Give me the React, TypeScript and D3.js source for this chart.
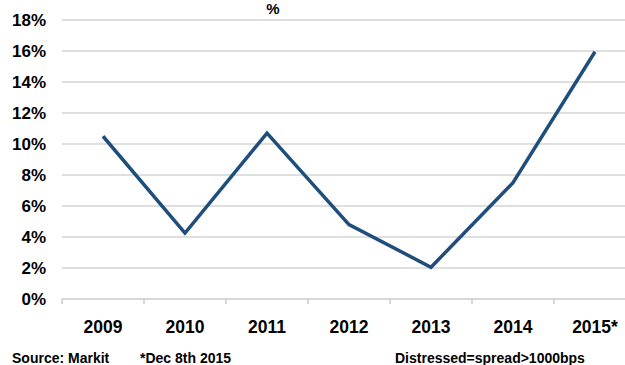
import { useEffect, useRef } from 'react';
import * as d3 from 'd3';

// data
const years = ['2009', '2010', '2011', '2012', '2013', '2014', '2015*'];
const distressedPct = [10.5, 4.25, 10.7, 4.8, 2.05, 7.5, 15.95];
const yTicks = [0, 2, 4, 6, 8, 10, 12, 14, 16, 18];

function App() {
  const gx = useRef<SVGGElement>(null);

  const width = 625;
  const height = 365;

  const plotLeft = 62;
  const plotRight = 636; // the plot runs past the right edge of the picture
  const plotTop = 20;
  const plotBottom = 299;

  const font = '"Liberation Sans", Arial, sans-serif';

  const xScale = d3.scaleBand<string>()
    .domain(years)
    .range([plotLeft, plotRight]);

  const yScale = d3.scaleLinear()
    .domain([0, 18])
    .range([plotBottom, plotTop]);

  const line = d3.line<number>()
    .x((_, i) => (xScale(years[i]) ?? 0) + xScale.bandwidth() / 2)
    .y(d => yScale(d));

  useEffect(() => {
    const g = d3.select(gx.current);
    g.selectAll('*').remove();
    const bw = xScale.bandwidth();
    // category boundary ticks
    const bounds = years.map(y => xScale(y) ?? 0).concat([plotRight]);
    g.append('line')
      .attr('x1', plotLeft).attr('x2', plotRight)
      .attr('y1', plotBottom).attr('y2', plotBottom)
      .attr('stroke', '#c8cccc').attr('stroke-width', 1.5);
    g.selectAll('line.tick')
      .data(bounds)
      .join('line')
      .attr('class', 'tick')
      .attr('x1', d => d).attr('x2', d => d)
      .attr('y1', plotBottom).attr('y2', plotBottom + 5)
      .attr('stroke', '#c8cccc').attr('stroke-width', 1.5);
    g.selectAll('text')
      .data(years)
      .join('text')
      .attr('x', d => (xScale(d) ?? 0) + bw / 2)
      .attr('y', 333)
      .attr('text-anchor', 'middle')
      .attr('font-family', font)
      .attr('font-weight', 'bold')
      .attr('font-size', 17.5)
      .attr('fill', '#000')
      .text(d => d);
  }, []);

  return (
    <svg
      width={width}
      height={height}
      viewBox={`0 0 ${width} ${height}`}
      style={{ position: 'absolute', left: 0, top: 0, background: '#fff' }}
    >
      <text x={273} y={14} textAnchor="middle" fontFamily={font} fontWeight="bold" fontSize={15}>%</text>

      {/* gridlines */}
      <g>
        {yTicks.filter(t => t > 0).map(t => (
          <line key={t} x1={plotLeft} x2={plotRight} y1={yScale(t)} y2={yScale(t)} stroke="#d3d6d6" strokeWidth={1.5} />
        ))}
      </g>

      {/* y labels */}
      <g>
        {yTicks.map(t => (
          <text
            key={t}
            x={46}
            y={yScale(t) + 6}
            textAnchor="end"
            fontFamily={font}
            fontWeight="bold"
            fontSize={17}
          >{`${t}%`}</text>
        ))}
      </g>

      <g ref={gx}></g>

      <path d={line(distressedPct) ?? ''} fill="none" stroke="#1f4e7d" strokeWidth={3.5} strokeLinejoin="miter" />

      <g fontFamily={font} fontWeight="bold" fontSize={14}>
        <text x={12} y={363}>Source: Markit</text>
        <text x={140} y={363}>*Dec 8th 2015</text>
        <text x={395} y={363}>Distressed=spread&gt;1000bps</text>
      </g>
    </svg>
  );
}

export default App;
